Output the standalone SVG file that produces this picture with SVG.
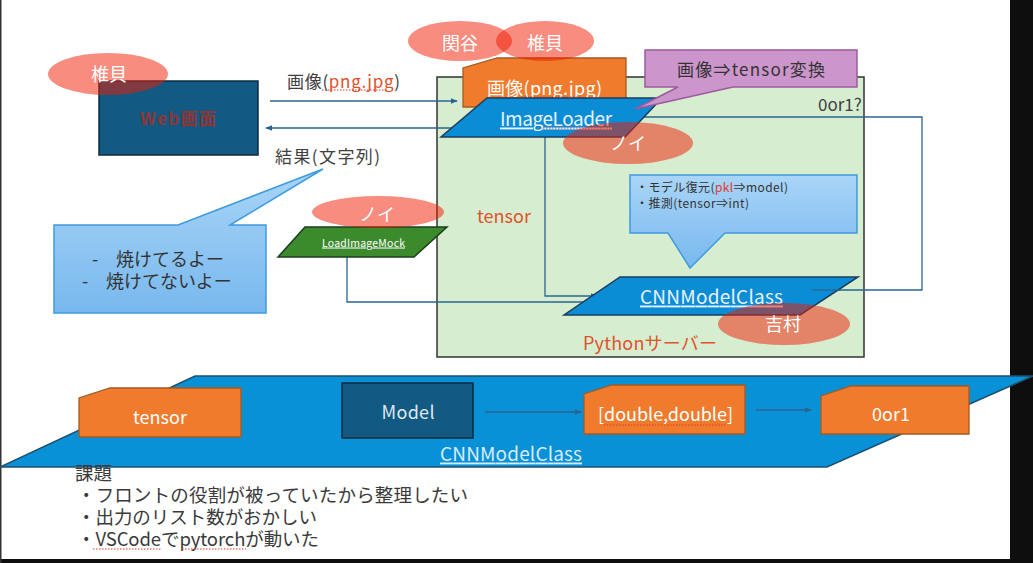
<svg xmlns="http://www.w3.org/2000/svg" width="1033" height="563" viewBox="0 0 1033 563">
<defs>
<style>
text{font-family:"Noto Sans CJK JP","Noto Sans",sans-serif;}
.ell{fill:#f01a00;fill-opacity:0.5;}
.wt{fill:#ffffff;font-size:18px;}
.lbl{fill:#404040;font-size:17px;}
.red{fill:#e0532c;font-size:18px;}
.orange{fill:#f07b2c;stroke:#a65a20;stroke-width:1.3;}
.blue{fill:#0b8dd5;stroke:#1c3c5c;stroke-width:1.5;}
.dark{fill:#125a82;stroke:#0d2c40;stroke-width:1.5;}
.conn{fill:none;stroke:#2a6590;stroke-width:1.3;}
.call{fill:url(#cg);stroke:#3d9be0;stroke-width:1.5;}
.sp{fill:none;stroke:#e03a2a;stroke-width:1;stroke-dasharray:1.5 1.5;}
</style>
<linearGradient id="cg" x1="0" y1="0" x2="0" y2="1">
<stop offset="0" stop-color="#a9d5f7"/>
<stop offset="1" stop-color="#78b8ee"/>
</linearGradient>
<marker id="arr" viewBox="0 0 10 10" refX="9" refY="5" markerWidth="7" markerHeight="7" orient="auto" markerUnits="userSpaceOnUse">
<path d="M0,1 L10,5 L0,9 Z" fill="#2a6590"/>
</marker>
</defs>
<rect x="0" y="0" width="1033" height="563" fill="#ffffff"/>
<rect x="1010" y="0" width="23" height="563" fill="#0e0e0e"/>
<rect x="0" y="559" width="1033" height="4" fill="#0e0e0e"/>
<rect x="0" y="0" width="1.5" height="563" fill="#333333"/>

<g id="python-server">
<rect x="437" y="77" width="427" height="280" fill="#d6edd0" stroke="#333333" stroke-width="1.5"/>
<text x="504" y="215" class="red" text-anchor="middle" dominant-baseline="central" textLength="54">tensor</text>
<text x="818" y="103" class="lbl" font-size="20" dominant-baseline="central" fill="#333">0or1?</text>
<text x="583" y="342" class="red" dominant-baseline="central" textLength="134">Pythonサーバー</text>
</g>

<g id="connectors">
<line x1="270" y1="101" x2="457" y2="101" class="conn" marker-end="url(#arr)"/>
<line x1="452" y1="128" x2="266" y2="128" class="conn" marker-end="url(#arr)"/>
<polyline points="812,290 922,290 922,117 644,117" class="conn"/>
<polyline points="545,137 545,296 597,296" class="conn" marker-end="url(#arr)"/>
<polyline points="347,257 347,302 590,302" class="conn"/>
<line x1="245" y1="417" x2="339" y2="417" class="conn" marker-end="url(#arr)"/>
</g>

<g id="web">
<rect x="99" y="81" width="159" height="74" class="dark"/>
<text x="178" y="117" text-anchor="middle" dominant-baseline="central" font-size="17" font-weight="bold" fill="#8f3535" textLength="76">Web画面</text>
</g>
<g id="shiikai1">
<ellipse cx="108" cy="74" rx="60" ry="21" class="ell"/>
<text x="109" y="73" class="wt" text-anchor="middle" dominant-baseline="central">椎貝</text>
</g>

<g id="label-image">
<text x="287" y="80" class="lbl" dominant-baseline="central" textLength="113">画像(<tspan fill="#e0502a">png.jpg</tspan>)</text>
<line x1="322" y1="90" x2="386" y2="90" class="sp"/>
</g>
<g id="label-result">
<text x="275" y="155" class="lbl" dominant-baseline="central" textLength="105">結果(文字列)</text>
</g>

<g id="image-input">
<polygon points="497,58 626,58 626,107 463,107 463,68" class="orange"/>
<text x="487" y="87" class="wt" font-size="17" dominant-baseline="central" textLength="115" fill="#fff4ea">画像(png.jpg)</text>
<line x1="522" y1="97" x2="580" y2="97" class="sp"/>
</g>

<g id="image-loader">
<polygon points="487,98 662,98 625,137 441,137" class="blue"/>
<text x="500" y="117" dominant-baseline="central" font-size="19" fill="#e8f2ff" textLength="112" text-decoration="underline">ImageLoader</text>
<line x1="540" y1="128" x2="612" y2="128" class="sp"/>
</g>

<g id="callout-convert">
<polygon points="645,50 857,50 857,87 733,87 635,109 678,87 645,87" fill="#cc96cc" stroke="#9d5a9d" stroke-width="1.5"/>
<text x="677" y="68" dominant-baseline="central" font-size="17" fill="#333333" textLength="148">画像⇒tensor変換</text>
</g>

<g id="sekiya">
<ellipse cx="460" cy="41" rx="52" ry="20" class="ell"/>
<text x="460" y="42" class="wt" text-anchor="middle" dominant-baseline="central">関谷</text>
</g>
<g id="shiikai2">
<ellipse cx="545" cy="41" rx="49" ry="20" class="ell"/>
<text x="545" y="42" class="wt" text-anchor="middle" dominant-baseline="central">椎貝</text>
</g>
<g id="noi1">
<ellipse cx="628" cy="143" rx="65" ry="21" class="ell"/>
<text x="628" y="142" class="wt" text-anchor="middle" dominant-baseline="central">ノイ</text>
</g>

<g id="load-image-mock">
<polygon points="305,227 447,227 414,257 278,257" fill="#3b8a2c" stroke="#1d3d20" stroke-width="1.5"/>
<text x="322" y="242" dominant-baseline="central" font-size="10.5" fill="#ffffff" textLength="83" text-decoration="underline">LoadImageMock</text>
</g>
<g id="noi2">
<ellipse cx="378" cy="212" rx="66" ry="16" class="ell"/>
<text x="377" y="213" class="wt" text-anchor="middle" dominant-baseline="central">ノイ</text>
</g>

<g id="callout-model">
<polygon points="630,175 857,175 857,233 725,233 690,268 668,233 630,233" class="call"/>
<text x="636" y="186" dominant-baseline="central" font-size="12" fill="#333333" textLength="152">・モデル復元(<tspan fill="#e03a2a">pkl</tspan>⇒model)</text>
<text x="636" y="202" dominant-baseline="central" font-size="12" fill="#333333" textLength="113">・推測(tensor⇒int)</text>
</g>

<g id="cnn-model-class">
<polygon points="620,277 858,277 800,315 564,315" class="blue"/>
<text x="640" y="295" dominant-baseline="central" font-size="19" fill="#e8f2ff" textLength="143" text-decoration="underline">CNNModelClass</text>
</g>
<line x1="812" y1="290" x2="840" y2="290" class="conn"/>
<g id="yoshimura">
<ellipse cx="784" cy="324" rx="66" ry="21" class="ell"/>
<text x="783" y="323" class="wt" text-anchor="middle" dominant-baseline="central">吉村</text>
</g>

<g id="callout-result">
<polygon points="54,225 178,225 323,169 230,225 266,225 266,313 54,313" class="call"/>
<text y="258" dominant-baseline="central" font-size="18" fill="#333333"><tspan x="92">-</tspan><tspan x="116">焼けてるよー</tspan></text>
<text y="280" dominant-baseline="central" font-size="18" fill="#333333"><tspan x="82">-</tspan><tspan x="106">焼けてないよー</tspan></text>
</g>

<g id="cnn-band">
<polygon points="0,467 195,376 1033,376 827,467" fill="#0891d6" stroke="#1f5070" stroke-width="1.5"/>
<text x="440" y="452" dominant-baseline="central" font-size="19" fill="#d8ecff" textLength="142" text-decoration="underline">CNNModelClass</text>
</g>
<g id="band-connectors">
<line x1="485" y1="412" x2="581" y2="412" class="conn" marker-end="url(#arr)"/>
<line x1="756" y1="410" x2="811" y2="410" class="conn" marker-end="url(#arr)"/>
</g>
<g id="tensor">
<polygon points="110,388 241,388 241,437 79,437 79,398" class="orange"/>
<text x="160" y="416" class="wt" text-anchor="middle" dominant-baseline="central" textLength="54">tensor</text>
</g>
<g id="model">
<rect x="342" y="383" width="131" height="55" class="dark"/>
<text x="408" y="411" text-anchor="middle" dominant-baseline="central" font-size="18" fill="#dfe8f0" textLength="53">Model</text>
</g>
<g id="double">
<polygon points="612,385 745,385 745,434 584,434 584,394" class="orange"/>
<text x="598" y="413" class="wt" dominant-baseline="central" textLength="135">[double,double]</text>
<line x1="604" y1="425" x2="727" y2="425" class="sp"/>
</g>
<g id="zero-or-one">
<polygon points="851,386 969,386 969,434 821,434 821,396" class="orange"/>
<text x="891" y="413" class="wt" font-size="20" text-anchor="middle" dominant-baseline="central">0or1</text>
</g>

<g id="issues" font-size="18.5" fill="#3a3a3a">
<text x="75" y="472" dominant-baseline="central" fill="#3a3a3a" textLength="37">課題</text>
<text x="77" y="494" dominant-baseline="central" fill="#3a3a3a" textLength="391">・フロントの役割が被っていたから整理したい</text>
<text x="77" y="516" dominant-baseline="central" fill="#3a3a3a" textLength="240">・出力のリスト数がおかしい</text>
<text x="77" y="538" dominant-baseline="central" fill="#3a3a3a" textLength="242">・VSCodeでpytorchが動いた</text>
<line x1="93" y1="549" x2="161" y2="549" class="sp"/>
<line x1="182" y1="549" x2="246" y2="549" class="sp"/>
</g>
</svg>
